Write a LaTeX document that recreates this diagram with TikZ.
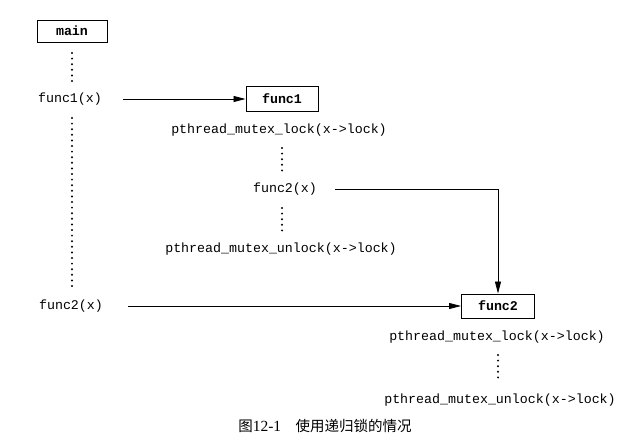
\documentclass[tikz,border=0pt]{standalone}
\usepackage{fontspec}
\setmonofont{Liberation Mono}
\newfontfamily\cjk{Noto Sans CJK SC}
\newfontfamily\capnum{Liberation Serif}
\usetikzlibrary{arrows.meta}

\begin{document}
\begin{tikzpicture}[x=1pt,y=-1pt,
  every node/.style={font=\fontsize{13.3}{15}\ttfamily,inner sep=0pt},
  fbox/.style={draw,line width=1pt,minimum height=24pt,font=\fontsize{13.3}{15}\ttfamily\bfseries},
  dots/.style={line width=2.2pt,line cap=round,dash pattern=on 0pt off 5.6pt},
  call/.style={line width=0.8pt,-{Triangle[length=12pt,width=6pt]}}]
\useasboundingbox (0,0) rectangle (632,447);
% left column
\node [fbox,minimum width=70pt,minimum height=22pt] (main) at (72,31) {main};
\node (f1call) at (70,99) {func1(x)};
\node (f2callm) at (71,306) {func2(x)};
% func1 column
\node [fbox,minimum width=72pt,minimum height=25pt] (func1) at (282,99) {func1};
\node (lock1) at (279,130) {pthread\_mutex\_lock(x->lock)};
\node (f2call) at (285,189) {func2(x)};
\node (unlock1) at (281,249) {pthread\_mutex\_unlock(x->lock)};
% func2 column
\node [fbox,minimum width=73pt] (func2) at (498,306) {func2};
\node (lock2) at (497,337) {pthread\_mutex\_lock(x->lock)};
\node (unlock2) at (500,400) {pthread\_mutex\_unlock(x->lock)};
% caption
\node [font=\fontsize{14.5}{17}\selectfont] (cap) at (325,426)
  {{\cjk 图}{\capnum\fontsize{15.5}{17}\selectfont 12-1}\hspace{1em}{\cjk 使用递归锁的情况}};

\draw [dots] (72,53) -- (72,82);
\draw [dots] (72,118) -- (72,286);
\draw [dots] (282,148) -- (282,172);
\draw [dots] (282,208) -- (282,232);
\draw [dots] (498,355) -- (498,382);

\draw [call,shorten <=21pt] (f1call.east) -- (func1.west);
\draw [call,shorten <=18pt] (f2call.east) -| (func2.north);
\draw [call,shorten <=25pt] (f2callm.east) -- (func2.west);
\end{tikzpicture}
\end{document}
